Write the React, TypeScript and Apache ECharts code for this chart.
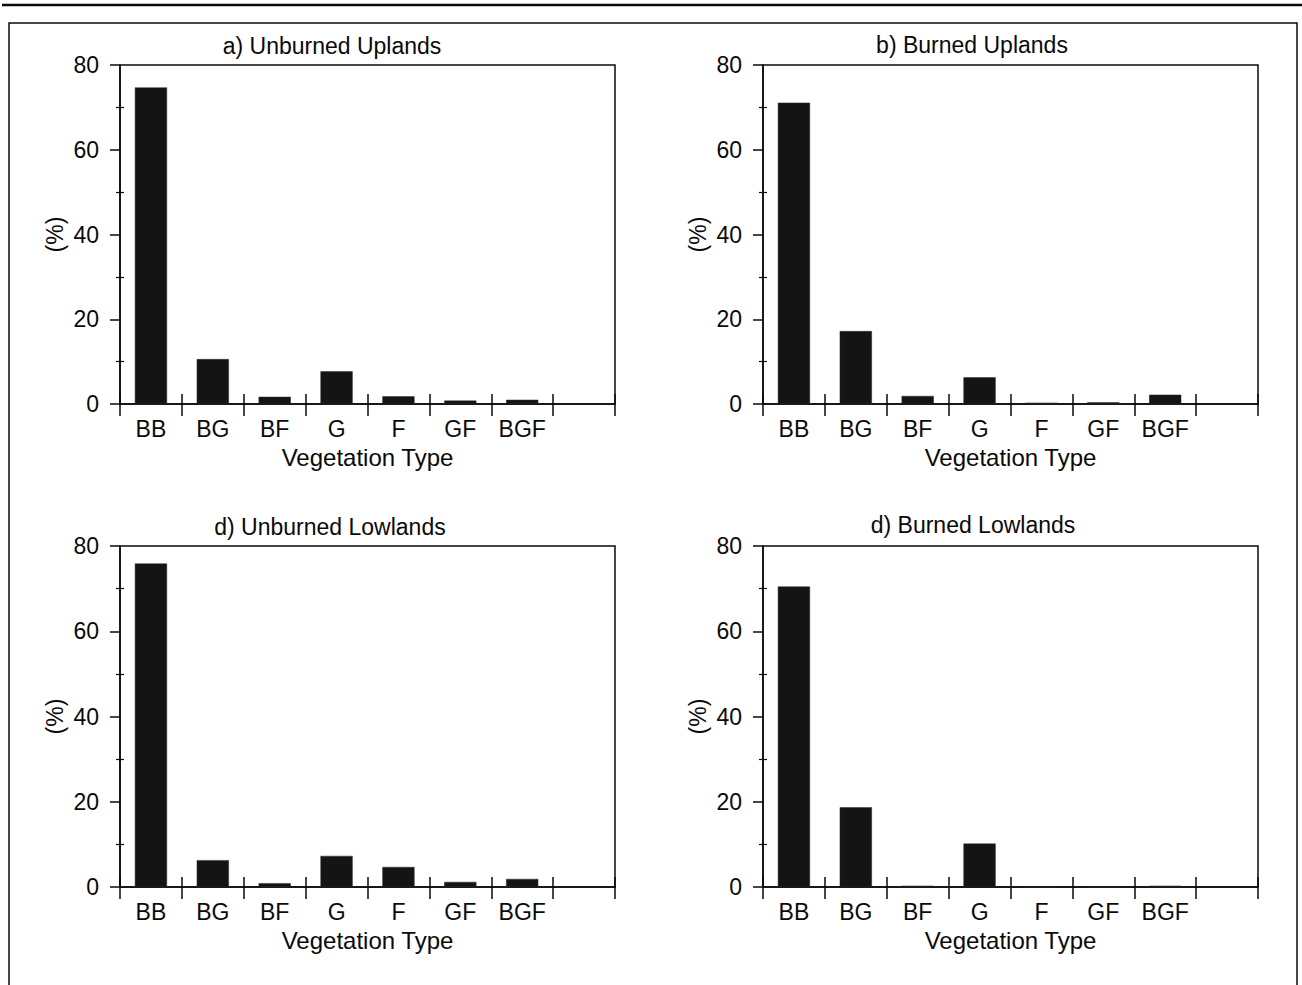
import React, { useEffect, useRef } from 'react';
import * as echarts from 'echarts';

// ---- data ----
const categories = ['BB', 'BG', 'BF', 'G', 'F', 'GF', 'BGF'];
const unburnedUplands = [74.7, 10.6, 1.7, 7.7, 1.8, 0.8, 1.0];
const burnedUplands = [71.1, 17.2, 1.9, 6.3, 0.3, 0.4, 2.2];
const unburnedLowlands = [75.9, 6.3, 0.9, 7.3, 4.7, 1.2, 1.9];
const burnedLowlands = [70.5, 18.7, 0.3, 10.2, 0, 0, 0.3];
const panelTitles = ['a) Unburned Uplands', 'b) Burned Uplands', 'd) Unburned Lowlands', 'd) Burned Lowlands'];
const yMin = 0;
const yMax = 80;
const yStep = 20;
const xAxisTitle = 'Vegetation Type';
const yAxisTitle = '(%)';

const FONT = '"Liberation Sans", Arial, Helvetica, sans-serif';
const INK = '#0a0a0a';

export default function App() {
  const ref = useRef<HTMLDivElement>(null);

  useEffect(() => {
    document.body.style.margin = '0';
    const chart = echarts.init(ref.current!, null, { renderer: 'svg' });

    const seriesData = [unburnedUplands, burnedUplands, unburnedLowlands, burnedLowlands];
    const xCats = [...categories, ''];
    const layouts = [
      { left: 120, top: 65, width: 495, height: 339, titleX: 332, titleY: 46 },
      { left: 763, top: 65, width: 495, height: 339, titleX: 972, titleY: 45 },
      { left: 120, top: 546, width: 495, height: 341, titleX: 330, titleY: 527 },
      { left: 763, top: 546, width: 495, height: 341, titleX: 973, titleY: 525 },
    ];
    const line = { color: INK, width: 1.5 };

    const grids: any[] = [];
    const xAxes: any[] = [];
    const yAxes: any[] = [];
    const series: any[] = [];
    const graphics: any[] = [
      {
        type: 'line',
        shape: { x1: 2, y1: 5, x2: 1302, y2: 5 },
        style: { stroke: INK, lineWidth: 2.5 },
      },
      {
        type: 'rect',
        shape: { x: 9, y: 23, width: 1288, height: 980 },
        style: { fill: 'none', stroke: INK, lineWidth: 1.5 },
      },
    ];

    layouts.forEach((l, i) => {
      grids.push({
        left: l.left,
        top: l.top,
        width: l.width,
        height: l.height,
        show: true,
        borderColor: INK,
        borderWidth: 1.5,
        backgroundColor: 'transparent',
        containLabel: false,
        outerBoundsMode: 'none',
      });
      graphics.push({
        type: 'text',
        x: l.titleX,
        y: l.titleY,
        style: {
          text: panelTitles[i],
          align: 'center',
          verticalAlign: 'middle',
          fill: INK,
          font: `23px ${FONT}`,
        },
      });
    });

    layouts.forEach((_, i) => {
      xAxes.push({
        gridIndex: i,
        type: 'category',
        data: xCats,
        position: 'bottom',
        boundaryGap: true,
        axisLine: { show: true, onZero: false, lineStyle: line },
        axisTick: { show: true, length: 12, interval: 0, alignWithLabel: false, lineStyle: line },
        axisLabel: { interval: 0, fontSize: 23, color: INK, margin: 13, fontFamily: FONT },
        splitLine: { show: false },
        name: xAxisTitle,
        nameLocation: 'middle',
        nameGap: 41,
        nameTextStyle: { fontSize: 24, color: INK, fontFamily: FONT },
      });
      yAxes.push({
        gridIndex: i,
        type: 'value',
        min: yMin,
        max: yMax,
        interval: yStep,
        position: 'left',
        axisLine: { show: true, onZero: false, lineStyle: line },
        axisTick: { show: true, length: 10, lineStyle: line },
        minorTick: { show: true, splitNumber: 2, length: 4, lineStyle: { color: INK, width: 1.2 } },
        splitLine: { show: false },
        minorSplitLine: { show: false },
        axisLabel: { fontSize: 23, color: INK, margin: 21, fontFamily: FONT },
        name: yAxisTitle,
        nameLocation: 'middle',
        nameRotate: 90,
        nameGap: 54,
        nameTextStyle: { fontSize: 23, color: INK, fontFamily: FONT },
      });
    });

    // overlay axes: inner halves of the crossing ticks
    layouts.forEach((_, i) => {
      xAxes.push({
        gridIndex: i,
        type: 'category',
        data: xCats,
        position: 'bottom',
        boundaryGap: true,
        axisLine: { show: false, onZero: false },
        axisTick: { show: true, inside: true, length: 10, interval: 0, lineStyle: line },
        axisLabel: { show: false },
        splitLine: { show: false },
      });
      yAxes.push({
        gridIndex: i,
        type: 'value',
        min: yMin,
        max: yMax,
        interval: yStep,
        position: 'left',
        axisLine: { show: false, onZero: false },
        axisTick: { show: false, inside: true },
        minorTick: { show: true, splitNumber: 2, length: 4, lineStyle: { color: INK, width: 1.2 } },
        splitLine: { show: false },
        minorSplitLine: { show: false },
        axisLabel: { show: false },
      });
    });

    seriesData.forEach((d, i) => {
      series.push({
        type: 'bar',
        xAxisIndex: i,
        yAxisIndex: i,
        data: d,
        barWidth: '52%',
        silent: true,
        itemStyle: { color: '#141414', borderColor: '#2a2a2a', borderWidth: 0.5 },
      });
    });

    chart.setOption({
      animation: false,
      backgroundColor: '#fff',
      textStyle: { fontFamily: FONT },
      grid: grids,
      xAxis: xAxes,
      yAxis: yAxes,
      series,
      graphic: graphics,
    });

    return () => chart.dispose();
  }, []);

  return <div ref={ref} style={{ width: 1302, height: 985 }} />;
}
